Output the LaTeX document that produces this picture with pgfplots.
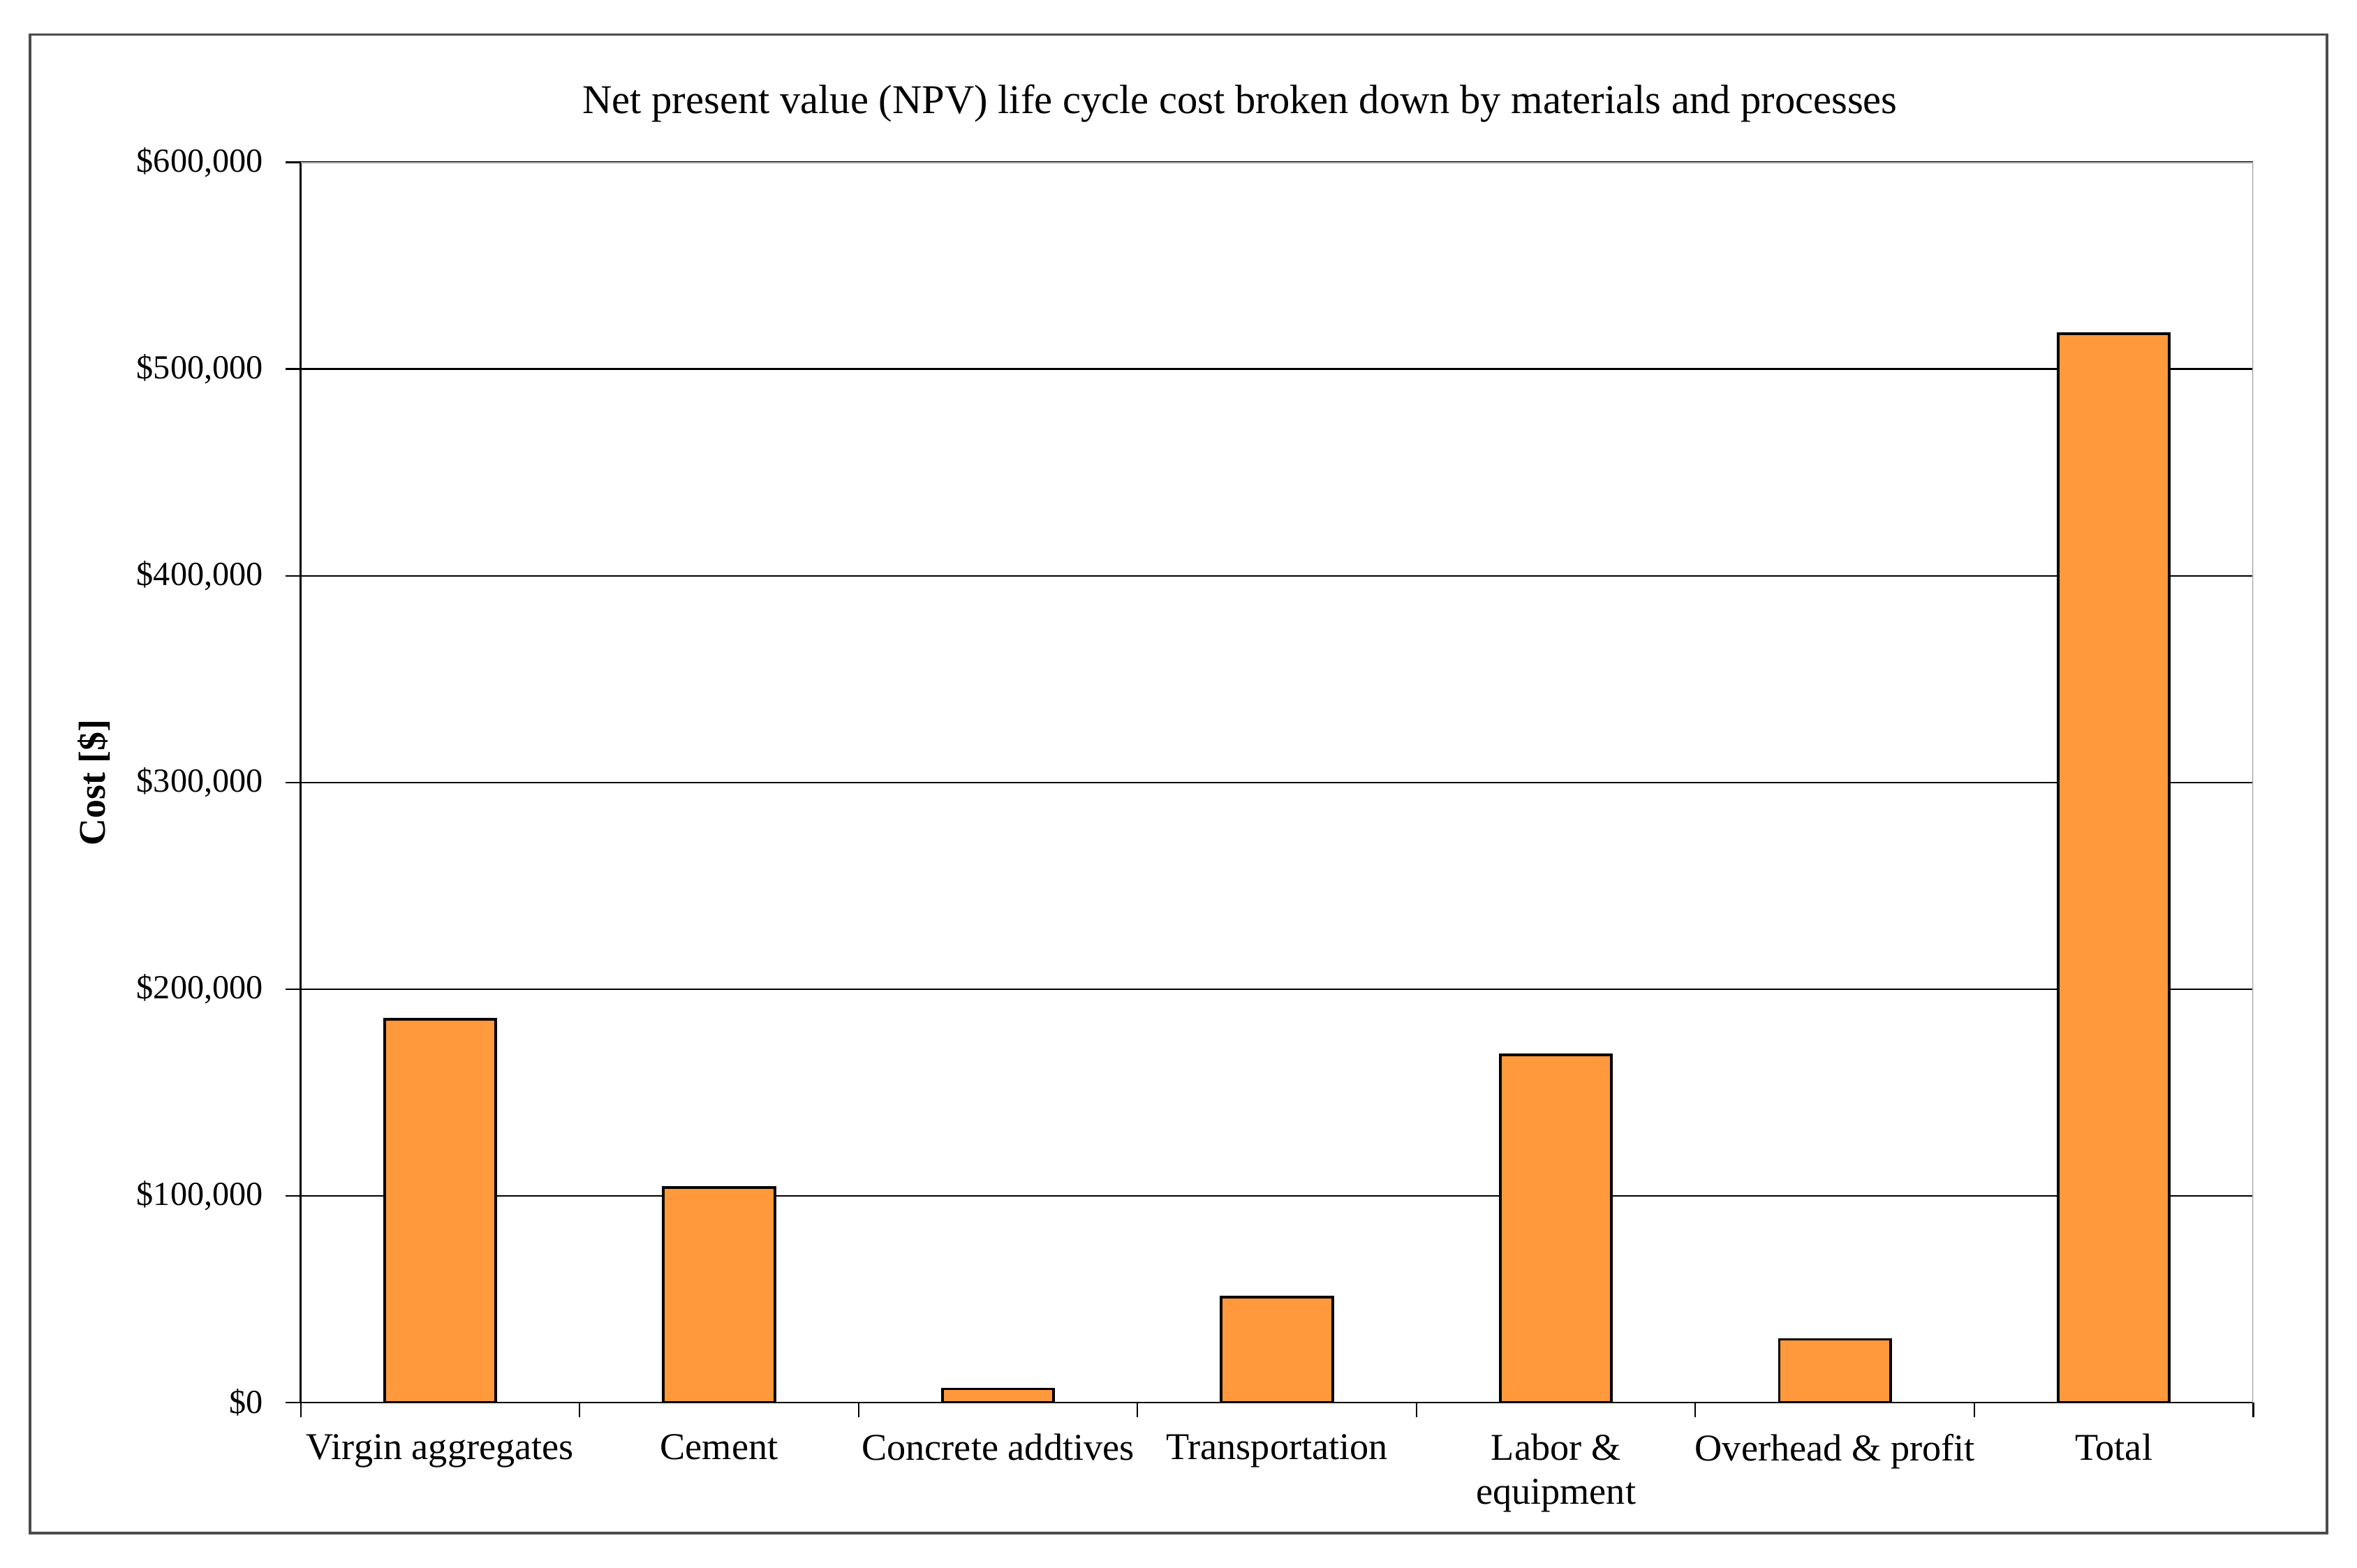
\documentclass[border=0pt]{standalone}
\usepackage{fontspec}
\setmainfont{Liberation Serif}
\usepackage{pgfplots}
\pgfplotsset{compat=1.18}
\definecolor{barorange}{RGB}{255,153,60}
\begin{document}
\begin{tikzpicture}[x=1pt,y=1pt]
% page size and outer frame
\path (0,0) rectangle (784,521.5);
\draw[gray!60!black, line width=0.8pt] (10,11.5) rectangle (774,510);
\begin{axis}[
  at={(100pt,55pt)}, anchor=south west,
  scale only axis, width=649.5pt, height=412.5pt,
  font=\fontsize{12}{14}\selectfont,
  xmin=-0.5, xmax=6.5,
  ymin=0, ymax=600000,
  axis x line*=bottom, axis y line*=left,
  axis line style={black, line width=0.6pt},
  tick align=outside, major tick length=5pt,
  tick style={black, line width=0.5pt},
  xtick={-0.5,0.5,1.5,2.5,3.5,4.5,5.5,6.5},
  x tick label as interval,
  xticklabels={Virgin aggregates, Cement, Concrete addtives, Transportation, {Labor \&\\equipment}, Overhead \& profit, Total},
  xticklabel style={align=center, yshift=-2pt, font=\fontsize{12.6}{14.5}\selectfont},
  ytick={0,100000,200000,300000,400000,500000,600000},
  yticklabels={\$0,{\$100,000},{\$200,000},{\$300,000},{\$400,000},{\$500,000},{\$600,000}},
  yticklabel style={xshift=-4pt, font=\fontsize{11.2}{13}\selectfont},
  scaled y ticks=false,
  ymajorgrids, grid style={black, line width=0.5pt},
  title={Net present value (NPV) life cycle cost broken down by materials and processes},
  title style={at={(axis description cs:0.481,1.033)}, anchor=center, font=\fontsize{13.6}{16}\selectfont},
  ylabel={\textbf{Cost [\$]}},
  ylabel style={at={(axis description cs:-0.106,0.5)}, anchor=center, font=\fontsize{12.5}{15}\selectfont},
  ybar, bar width=37pt,
]
\addplot[fill=barorange, draw=black, line width=0.9pt] coordinates {
  (0,185500) (1,104000) (2,6500) (3,51000) (4,168000) (5,30500) (6,517000)};
\draw[gray!70, line width=0.6pt] (rel axis cs:0,1) -- (rel axis cs:1,1) -- (rel axis cs:1,0);
\end{axis}
\end{tikzpicture}
\end{document}
